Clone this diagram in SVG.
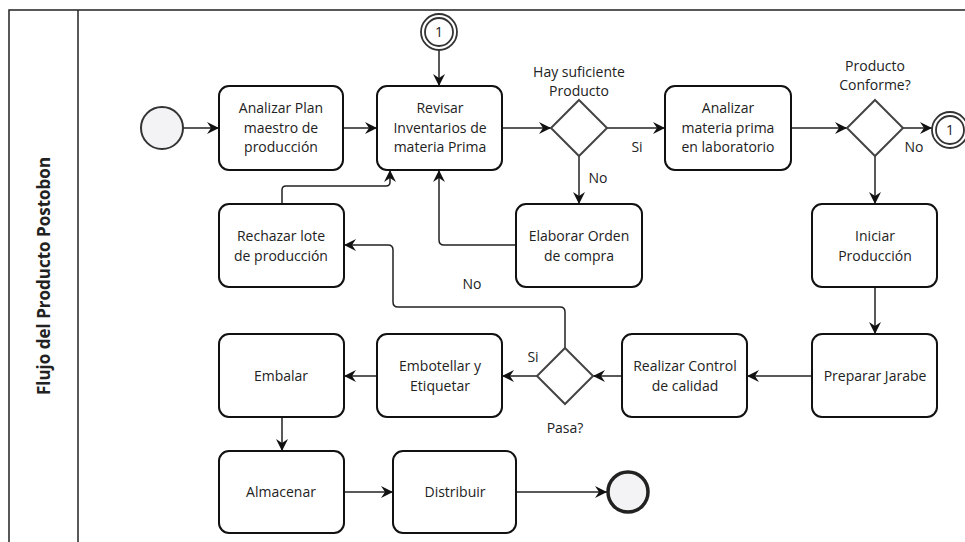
<svg xmlns="http://www.w3.org/2000/svg" width="965" height="542" viewBox="0 0 965 542">
<style>
.pool{fill:#fff;stroke:#222;stroke-width:1.5}
.task{fill:#fff;stroke:#111;stroke-width:2}
.gw{fill:#fff;stroke:#444;stroke-width:2}
.ev{fill:#f3f3f5;stroke:#333;stroke-width:2}
.end{fill:#f3f3f5;stroke:#222;stroke-width:3.5}
.link{fill:#fff;stroke:#333;stroke-width:1.8}
.flow{fill:none;stroke:#222;stroke-width:1.5}
text{font-family:"Open Sans","Noto Sans","DejaVu Sans",sans-serif;font-size:14px;fill:#222;text-anchor:middle}
.title{font-weight:bold;font-size:17px}
</style>
<defs>
<marker id="arr" markerUnits="userSpaceOnUse" markerWidth="12" markerHeight="12" viewBox="0 0 12 12" refX="12" refY="6" orient="auto">
<path d="M0,0 L12,6 L0,12 L4,6 Z" fill="#111"/>
</marker>
</defs>
<g id="pool">
<rect class="pool" x="9" y="10" width="1000" height="600"/>
<line x1="78" y1="10" x2="78" y2="542" stroke="#222" stroke-width="1.5"/>
<text class="title" transform="translate(50,276) rotate(-90)">Flujo del Producto Postobon</text>
</g>
<g id="connectors">
<path class="flow" marker-end="url(#arr)" d="M183,128 H219"/>
<path class="flow" marker-end="url(#arr)" d="M343,128 H377"/>
<path class="flow" marker-end="url(#arr)" d="M439,50 V86"/>
<path class="flow" marker-end="url(#arr)" d="M502,128 H551"/>
<path class="flow" marker-end="url(#arr)" d="M607,128 H665"/>
<path class="flow" marker-end="url(#arr)" d="M579,156 V204"/>
<path class="flow" marker-end="url(#arr)" d="M516,245 H444 Q439,245 439,240 V170"/>
<path class="flow" marker-end="url(#arr)" d="M282,204 V190 Q282,186 286,186 H386 Q390,186 390,182 V170"/>
<path class="flow" marker-end="url(#arr)" d="M791,128 H847"/>
<path class="flow" marker-end="url(#arr)" d="M903,128 H932"/>
<path class="flow" marker-end="url(#arr)" d="M875,156 V204"/>
<path class="flow" marker-end="url(#arr)" d="M875,287 V334"/>
<path class="flow" marker-end="url(#arr)" d="M812,376 H747"/>
<path class="flow" marker-end="url(#arr)" d="M622,376 H593"/>
<path class="flow" marker-end="url(#arr)" d="M537,376 H502"/>
<path class="flow" marker-end="url(#arr)" d="M565,348 V312 Q565,307 560,307 H398 Q393,307 393,302 V250 Q393,245 388,245 H344"/>
<path class="flow" marker-end="url(#arr)" d="M377,376 H344"/>
<path class="flow" marker-end="url(#arr)" d="M282,417 V451"/>
<path class="flow" marker-end="url(#arr)" d="M344,492 H393"/>
<path class="flow" marker-end="url(#arr)" d="M516,492 H607"/>
<text x="637" y="152">Si</text>
<text x="598" y="183">No</text>
<text x="914" y="152">No</text>
<text x="472" y="289">No</text>
<text x="533" y="362">Si</text>
</g>
<g id="start"><circle class="ev" cx="162" cy="128" r="21"/></g>
<g id="link1"><circle class="link" cx="439" cy="32" r="18"/><circle class="link" cx="439" cy="32" r="14"/><text x="439" y="37">1</text></g>
<g id="link2"><circle class="link" cx="950" cy="130" r="18"/><circle class="link" cx="950" cy="130" r="14"/><text x="950" y="135">1</text></g>
<g id="t-analizar-plan"><rect class="task" x="219" y="86" width="124" height="84" rx="10"/><text x="281" y="113">Analizar Plan</text><text x="281" y="133">maestro de</text><text x="281" y="152">producción</text></g>
<g id="t-revisar"><rect class="task" x="377" y="86" width="125" height="84" rx="10"/><text x="440" y="113">Revisar</text><text x="440" y="133">Inventarios de</text><text x="440" y="152">materia Prima</text></g>
<g id="gw-suficiente"><polygon class="gw" points="579,100 607,128 579,156 551,128"/><text x="579" y="77">Hay suficiente</text><text x="579" y="96">Producto</text></g>
<g id="t-analizar-mp"><rect class="task" x="665" y="86" width="126" height="84" rx="10"/><text x="728" y="113">Analizar</text><text x="728" y="133">materia prima</text><text x="728" y="152">en laboratorio</text></g>
<g id="gw-conforme"><polygon class="gw" points="875,100 903,128 875,156 847,128"/><text x="875" y="71">Producto</text><text x="875" y="90">Conforme?</text></g>
<g id="t-elaborar"><rect class="task" x="516" y="204" width="126" height="83" rx="10"/><text x="579" y="241">Elaborar Orden</text><text x="579" y="261">de compra</text></g>
<g id="t-rechazar"><rect class="task" x="219" y="204" width="125" height="83" rx="10"/><text x="281" y="241">Rechazar lote</text><text x="281" y="261">de producción</text></g>
<g id="t-iniciar"><rect class="task" x="812" y="204" width="125" height="83" rx="10"/><text x="875" y="241">Iniciar</text><text x="875" y="261">Producción</text></g>
<g id="t-preparar"><rect class="task" x="812" y="334" width="125" height="83" rx="10"/><text x="875" y="381">Preparar Jarabe</text></g>
<g id="t-control"><rect class="task" x="622" y="334" width="125" height="83" rx="10"/><text x="685" y="371">Realizar Control</text><text x="685" y="391">de calidad</text></g>
<g id="gw-pasa"><polygon class="gw" points="565,348 593,376 565,404 537,376"/><text x="565" y="433">Pasa?</text></g>
<g id="t-embotellar"><rect class="task" x="377" y="334" width="125" height="83" rx="10"/><text x="440" y="371">Embotellar y</text><text x="440" y="391">Etiquetar</text></g>
<g id="t-embalar"><rect class="task" x="219" y="334" width="125" height="83" rx="10"/><text x="281" y="381">Embalar</text></g>
<g id="t-almacenar"><rect class="task" x="219" y="451" width="125" height="82" rx="10"/><text x="281" y="497">Almacenar</text></g>
<g id="t-distribuir"><rect class="task" x="393" y="451" width="123" height="82" rx="10"/><text x="455" y="497">Distribuir</text></g>
<g id="end"><circle class="end" cx="628" cy="492" r="20"/></g>
</svg>
